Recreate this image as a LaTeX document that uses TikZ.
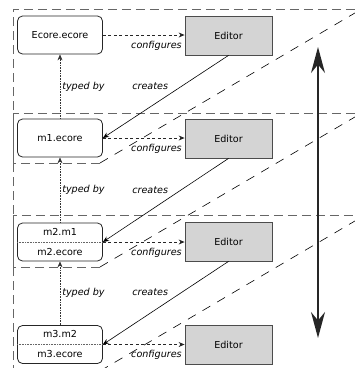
\documentclass[tikz,border=0pt]{standalone}
\usepackage{fontspec}
\setmainfont{DejaVu Sans}
\usetikzlibrary{arrows.meta}
\begin{document}
\begin{tikzpicture}[x=1pt,y=-1pt,
  frame/.style={draw=black!60, line width=0.9pt, dash pattern=on 9pt off 5pt},
  diag/.style={draw=black, line width=0.6pt, dash pattern=on 9pt off 8pt},
  txt/.style={font=\fontsize{9.6}{11}\selectfont, inner sep=0pt},
  ecorebox/.style={draw=black!85, fill=white, line width=0.8pt, rounded corners=5pt, minimum width=85pt, minimum height=38pt, inner sep=0pt, font=\fontsize{9.6}{11}\selectfont},
  editorbox/.style={draw=black!70, fill=black!17, line width=0.8pt, minimum width=87pt, minimum height=39pt, inner sep=0pt, font=\fontsize{9.6}{11}\selectfont},
  divider/.style={draw=black!60, line width=0.5pt, dash pattern=on 0.8pt off 0.8pt},
  cfg/.style={-{Stealth[length=6pt,width=5pt]}, line width=0.8pt, dash pattern=on 3pt off 2.5pt, draw=black!85},
  typed/.style={-{Stealth[length=6pt,width=5pt]}, line width=0.6pt, dash pattern=on 0.8pt off 0.8pt, draw=black!80},
  creates/.style={-{Stealth[length=6pt,width=5pt]}, line width=0.6pt, draw=black},
  lbl/.style={font=\fontsize{9.6}{11}\selectfont\itshape, inner sep=1pt},
  big/.style={{Stealth[length=26pt,width=14pt]}-{Stealth[length=26pt,width=14pt]}, line width=1.4pt, draw=black!85}
]
\useasboundingbox (0,0) rectangle (355,368);
\clip (0,0) rectangle (355,368);
% layer frames
\draw[frame] (100,163) -- (13,163) -- (13,9) -- (360,9);
\draw[diag] (100,163) -- (360,10);
\draw[frame] (100,267) -- (13,267) -- (13,113) -- (360,113);
\draw[diag] (100,267) -- (360,114);
\draw[frame] (100,371) -- (13,371) -- (13,215) -- (360,215);
\draw[diag] (100,371) -- (360,218);
% nodes
\node[ecorebox] (e0) at (60,35) {Ecore.ecore};
\node[editorbox] (ed0) at (228.5,35.5) {Editor};
\node[ecorebox] (e1) at (60,138) {m1.ecore};
\node[editorbox] (ed1) at (228.5,138.5) {Editor};
\node[ecorebox] (e2) at (60,242) {};
\node[txt] (e2a) at ([yshift=10pt]e2.center) {m2.m1};
\node[txt] (e2b) at ([yshift=-10pt]e2.center) {m2.ecore};
\draw[divider] (e2.west) -- (e2.east);
\node[editorbox] (ed2) at (228.5,241.5) {Editor};
\node[ecorebox] (e3) at (60,344.5) {};
\node[txt] (e3a) at ([yshift=10pt]e3.center) {m3.m2};
\node[txt] (e3b) at ([yshift=-10pt]e3.center) {m3.ecore};
\draw[divider] (e3.west) -- (e3.east);
\node[editorbox] (ed3) at (228.5,344.5) {Editor};
% configures
\draw[cfg] (e0.east) -- (e0.east -| ed0.west) node[lbl, pos=1, anchor=base east, xshift=-1.5pt, yshift=-13pt] {configures};
\draw[cfg] (e1.east) -- (e1.east -| ed1.west) node[lbl, pos=1, anchor=base east, xshift=-1.5pt, yshift=-13pt] {configures};
\draw[cfg] (e2.east) -- (e2.east -| ed2.west) node[lbl, pos=1, anchor=base east, xshift=-1.5pt, yshift=-13pt] {configures};
\draw[cfg] (e3.east) -- (e3.east -| ed3.west) node[lbl, pos=1, anchor=base east, xshift=-1.5pt, yshift=-13pt] {configures};
% typed by
\draw[typed] (e1.north) -- (e0.south) node[lbl, midway, right, inner sep=2pt] {typed by};
\draw[typed] (e2.north) -- (e1.south) node[lbl, midway, right, inner sep=2pt] {typed by};
\draw[typed] (e3.north) -- (e2.south) node[lbl, midway, right, inner sep=2pt] {typed by};
% creates
\draw[creates] (ed0.south) -- (e1.east) node[lbl, midway, xshift=-15.5pt, yshift=10.5pt] {creates};
\draw[creates] (ed1.south) -- (e2.east) node[lbl, midway, xshift=-15.5pt, yshift=10.5pt] {creates};
\draw[creates] (ed2.south) -- (e3.east) node[lbl, midway, xshift=-15.5pt, yshift=10.5pt] {creates};
% big double arrow
\coordinate (bt) at (318,47);
\coordinate (bb) at (318,338);
\draw[big] (bt) -- (bb);
\end{tikzpicture}
\end{document}
